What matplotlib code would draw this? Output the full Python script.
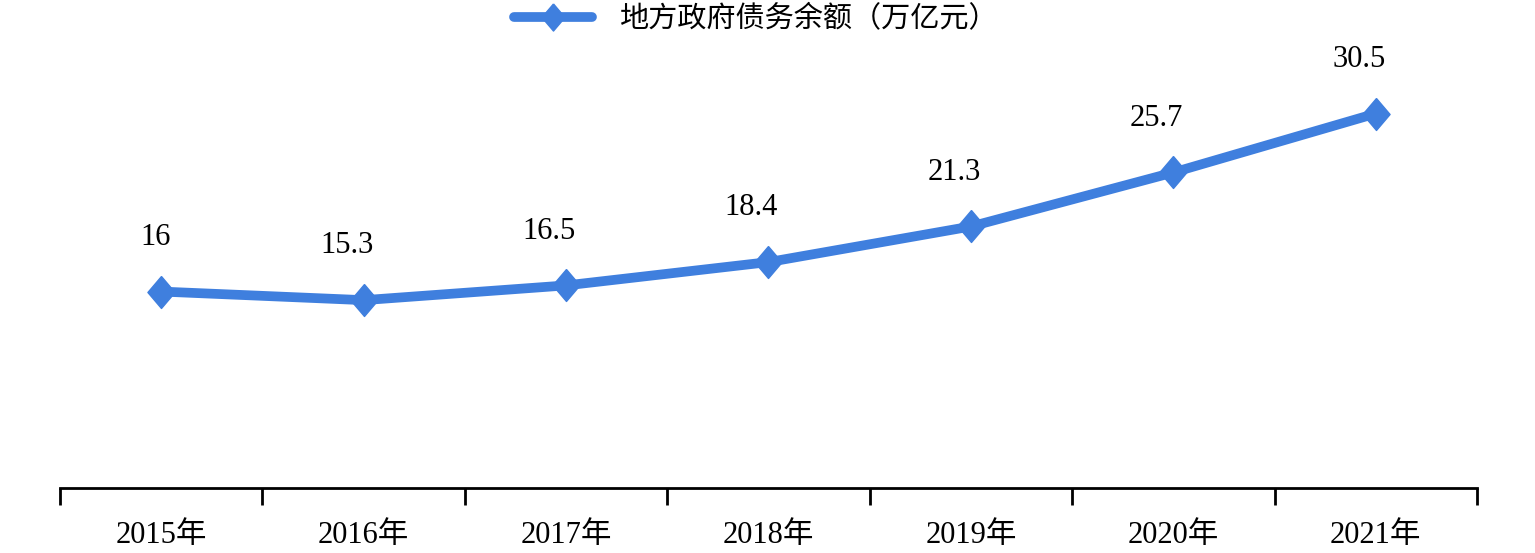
import matplotlib
matplotlib.use("Agg")
import matplotlib.pyplot as plt
import numpy as np

years = ["2015年", "2016年", "2017年", "2018年", "2019年", "2020年", "2021年"]
debt = [16, 15.3, 16.5, 18.4, 21.3, 25.7, 30.5]
labels = ["16", "15.3", "16.5", "18.4", "21.3", "25.7", "30.5"]
series_name = "地方政府债务余额（万亿元）"

plt.rcParams['font.family'] = ['Liberation Serif', 'Noto Sans CJK SC']
color = "#3F7FDE"
diamond = [(0, 1), (0.85, 0), (0, -1), (-0.85, 0), (0, 1)]

fig = plt.figure(figsize=(15.35, 5.53), dpi=100)
ax = fig.add_axes([60/1535, 1-488/553, (1477-60)/1535, 442/553])
x = np.arange(len(years))
ax.plot(x, debt, color=color, lw=7, marker=diamond, markersize=23, label=series_name,
        solid_capstyle="round", solid_joinstyle="round")
for xi, v, t in zip(x, debt, labels):
    ax.annotate(t, (xi, v), xytext=(7, 39), textcoords="offset points",
                ha="right", va="center", fontsize=22)
ax.set_xlim(-0.5, len(years) - 0.5)
ax.set_ylim(0, 36)
for s in ["left", "right", "top"]:
    ax.spines[s].set_visible(False)
ax.spines["bottom"].set_linewidth(2)
ax.set_yticks([])
ax.set_xticks(x)
ax.set_xticklabels(years, fontsize=22)
ax.tick_params(axis="x", which="major", length=0, pad=24)
ax.set_xticks(np.arange(-0.5, len(years)), minor=True)
ax.tick_params(axis="x", which="minor", length=12, width=2, direction="out")
leg = fig.legend(loc="center", bbox_to_anchor=(756/1535, 1-19/553), frameon=False,
                 prop={"family": ["Noto Sans CJK SC"], "size": 21}, handlelength=2.67,
                 handletextpad=0.92)
for h in leg.legend_handles:
    h.set_markersize(19.5)
fig.savefig("out.png", dpi=100)
